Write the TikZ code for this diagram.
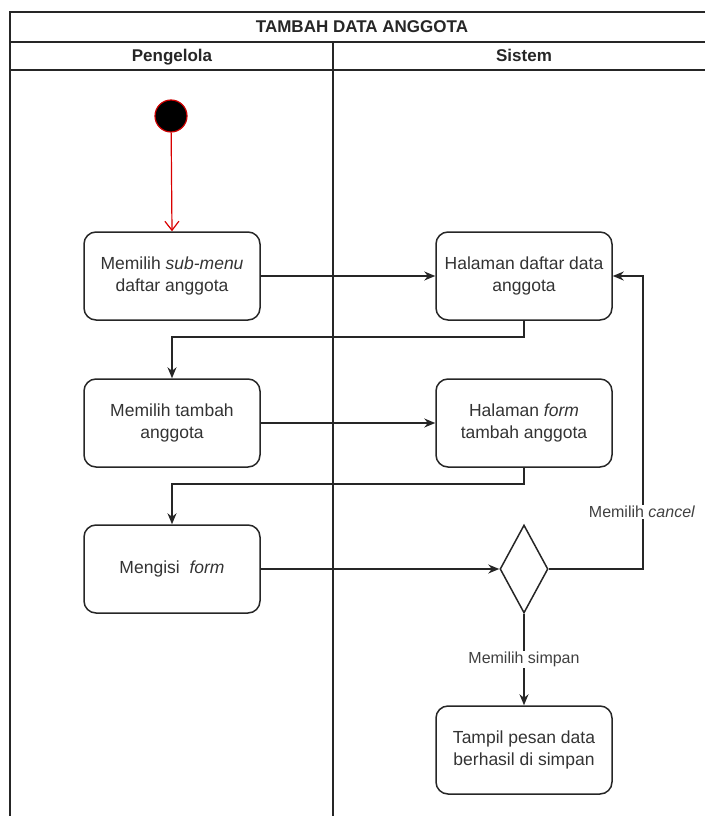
\documentclass[tikz,border=0pt]{standalone}
\usepackage{fontspec}
\setmainfont{Liberation Sans}
\usetikzlibrary{arrows.meta,positioning,shapes.geometric}
\tikzset{
  laneln/.style={line width=1.5pt, black!85},
  headtxt/.style={font=\bfseries\fontsize{17}{20}\selectfont, text=black!85,
    text height=12pt, text depth=3.5pt},
  actbox/.style={draw=black!85, line width=1.5pt, rounded corners=12pt,
    minimum width=176pt, minimum height=88pt, align=center,
    font=\fontsize{17.5}{22}\selectfont, text=black!80},
  decision/.style={draw=black!85, line width=1.5pt, diamond, aspect=0.55,
    minimum width=48pt, minimum height=88pt, inner sep=0pt},
  startdot/.style={circle, fill=black, draw=red!80!black, line width=1.2pt,
    minimum size=32pt, inner sep=0pt},
  flow/.style={-{Stealth[length=11pt,width=9pt]}, line width=1.5pt, black!85},
  redflow/.style={-{Straight Barb[length=9pt,width=14pt]}, line width=1.2pt, red!85!black},
  lbl/.style={fill=white, inner sep=1.5pt, font=\fontsize{16}{19}\selectfont, text=black!75},
}
\begin{document}
\begin{tikzpicture}[x=1pt,y=-1pt]
    \useasboundingbox (0,0) rectangle (705,816);
    % --- pool and lanes ---
    \draw[laneln] (705,12) -- (10,12) -- (10,816);
    \draw[laneln] (10,42) -- (705,42);
    \draw[laneln] (10,70) -- (705,70);
    \draw[laneln] (333,42) -- (333,816);
    \node[headtxt] (title) at (362,28) {TAMBAH DATA ANGGOTA};
    \node[headtxt] (lanea) at (172,57) {Pengelola};
    \node[headtxt] (lanes) at (524,57) {Sistem};
    % --- activities ---
    \node[startdot] (start) at (171,116) {};
    \node[actbox] (a1) at (172,276) {Memilih \textit{sub-menu}\\daftar anggota};
    \node[actbox] (a2) at (172,423) {Memilih tambah\\anggota};
    \node[actbox] (a3) at (172,569) {Mengisi\ \ \textit{form}};
    \node[actbox] (s1) at (524,276) {Halaman daftar data\\anggota};
    \node[actbox] (s2) at (524,423) {Halaman \textit{form}\\tambah anggota};
    \node[decision] (dec) at (524,569) {};
    \node[actbox] (s3) at (524,750) {Tampil pesan data\\berhasil di simpan};
    % --- flows ---
    \draw[redflow] (start) -- (a1.north);
    \draw[flow] (a1) -- (s1);
    \draw[flow] (s1.south) -- ++(0,16) -| (a2.north);
    \draw[flow] (a2) -- (s2);
    \draw[flow] (s2.south) -- ++(0,16) -| (a3.north);
    \draw[flow] (a3) -- (dec.west);
    \draw[flow] (dec.east) -- ++(94,0) |- (s1.east);
    \node[lbl] (cancel) at (642,512) {Memilih \textit{cancel}};
    \draw[flow] (dec.south) -- node[lbl] (simpan) {Memilih simpan} (s3.north);
\end{tikzpicture}
\end{document}
